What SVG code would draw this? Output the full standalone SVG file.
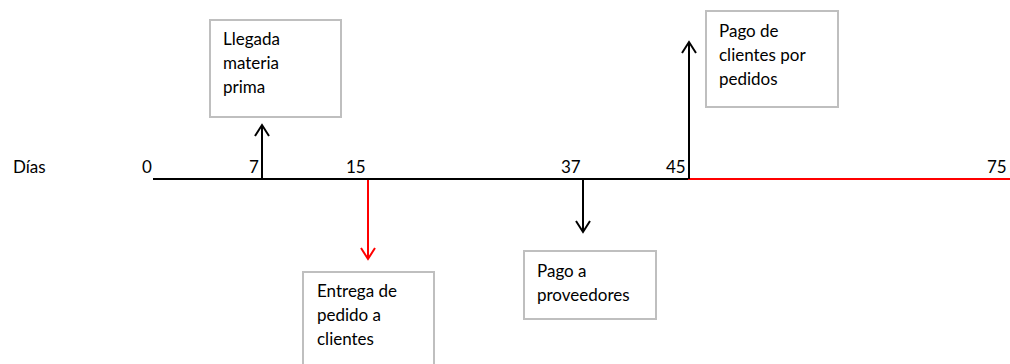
<svg xmlns="http://www.w3.org/2000/svg" width="1010" height="364" viewBox="0 0 1010 364">
<style>
.box{fill:#fff;stroke:#bfbfbf;stroke-width:2}
.t{font-family:Lato,"Liberation Sans",sans-serif;font-size:17px;fill:#000}
.ln{fill:none;stroke-width:2}
</style>
<defs>
<marker id="ah" viewBox="0 0 14 16" refX="12" refY="8" markerWidth="14" markerHeight="16" markerUnits="userSpaceOnUse" orient="auto">
<path d="M1,1 L12,8 L1,15" fill="none" stroke="context-stroke" stroke-width="2"/>
</marker>
</defs>
<rect width="1010" height="364" fill="#fff"/>
<g id="axis-labels">
<text class="t" x="13" y="173">Días</text>
<text class="t" x="142" y="173">0</text>
<text class="t" x="249" y="173">7</text>
<text class="t" x="346" y="173">15</text>
<text class="t" x="561" y="173">37</text>
<text class="t" x="666" y="173">45</text>
<text class="t" x="987" y="173">75</text>
</g>
<g id="connectors">
<line class="ln" x1="153" y1="179" x2="689" y2="179" stroke="#000"/>
<line class="ln" x1="688" y1="179" x2="1010" y2="179" stroke="#ff0000"/>
<line class="ln" x1="262" y1="179" x2="262" y2="125" stroke="#000" marker-end="url(#ah)"/>
<line class="ln" x1="689" y1="179" x2="689" y2="42" stroke="#000" marker-end="url(#ah)"/>
<line class="ln" x1="368" y1="180" x2="368" y2="259" stroke="#ff0000" marker-end="url(#ah)"/>
<line class="ln" x1="583" y1="180" x2="583" y2="232" stroke="#000" marker-end="url(#ah)"/>
</g>
<g id="node-llegada">
<rect class="box" x="210" y="20" width="131" height="97"/>
<text class="t" x="223" y="45">Llegada</text>
<text class="t" x="223" y="69">materia</text>
<text class="t" x="223" y="93">prima</text>
</g>
<g id="node-pago-clientes">
<rect class="box" x="706" y="11" width="132" height="96"/>
<text class="t" x="719" y="37">Pago de</text>
<text class="t" x="719" y="61">clientes por</text>
<text class="t" x="719" y="85">pedidos</text>
</g>
<g id="node-entrega">
<rect class="box" x="303" y="272" width="131" height="100"/>
<text class="t" x="317" y="297">Entrega de</text>
<text class="t" x="317" y="321">pedido a</text>
<text class="t" x="317" y="345">clientes</text>
</g>
<g id="node-pago-proveedores">
<rect class="box" x="524" y="251" width="132" height="68"/>
<text class="t" x="537" y="277">Pago a</text>
<text class="t" x="537" y="301">proveedores</text>
</g>
</svg>
